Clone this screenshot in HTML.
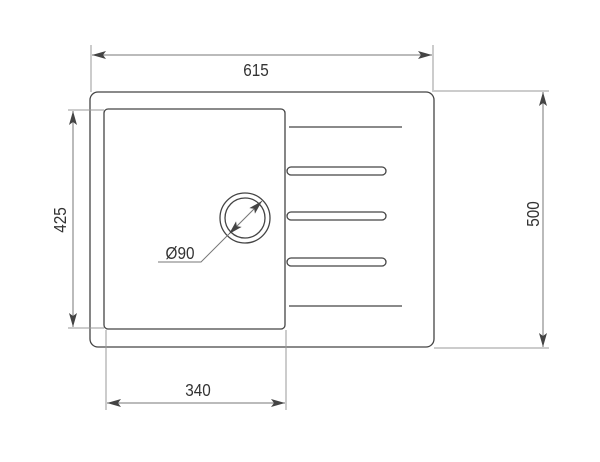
<!DOCTYPE html>
<html><head><style>html,body{margin:0;padding:0;background:#fff}</style></head>
<body>
<svg width="600" height="457" viewBox="0 0 600 457" xmlns="http://www.w3.org/2000/svg" font-family="Liberation Sans, sans-serif">
<defs>
<marker id="a" viewBox="0 0 14 8" refX="14" refY="4" markerWidth="14" markerHeight="8" orient="auto-start-reverse" markerUnits="userSpaceOnUse">
<path d="M0,0 L14,4 L0,8 L3,4 Z" fill="#444"/>
</marker>
</defs>
<g fill="none" stroke="#444" stroke-width="1.3">
<rect x="90" y="92" width="344" height="255" rx="8"/>
<rect x="104" y="109" width="181" height="220" rx="4"/>
<line x1="289" y1="127" x2="402" y2="127"/>
<line x1="289" y1="306" x2="402" y2="306"/>
<rect x="287" y="167" width="99" height="8" rx="4"/>
<rect x="287" y="212" width="99" height="8" rx="4"/>
<rect x="287" y="258" width="99" height="8" rx="4"/>
<circle cx="245" cy="218" r="25"/>
<circle cx="245" cy="218" r="20"/>
</g>
<g stroke="#999" stroke-width="1" fill="none">
<line x1="91" y1="45" x2="91" y2="92"/>
<line x1="433" y1="45" x2="433" y2="92"/>
<line x1="434" y1="91" x2="549" y2="91"/>
<line x1="434" y1="348" x2="549" y2="348"/>
<line x1="68" y1="110" x2="104" y2="110"/>
<line x1="68" y1="328" x2="104" y2="328"/>
<line x1="106" y1="330" x2="106" y2="410"/>
<line x1="286" y1="330" x2="286" y2="410"/>
</g>
<g stroke="#777" stroke-width="1" fill="none">
<line x1="92" y1="55" x2="432" y2="55" marker-start="url(#a)" marker-end="url(#a)"/>
<line x1="543" y1="92" x2="543" y2="347" marker-start="url(#a)" marker-end="url(#a)"/>
<line x1="73" y1="111" x2="73" y2="327" marker-start="url(#a)" marker-end="url(#a)"/>
<line x1="107" y1="403" x2="285" y2="403" marker-start="url(#a)" marker-end="url(#a)"/>
<line x1="229" y1="234" x2="262" y2="201" marker-start="url(#a)" marker-end="url(#a)"/>
<polyline points="158,262 201,262 229,234"/>
</g>
<g fill="#333" font-size="18">
<text transform="translate(256,76) scale(0.85,1)" text-anchor="middle">615</text>
<text transform="translate(198,396) scale(0.85,1)" text-anchor="middle">340</text>
<text transform="translate(180,259) scale(0.85,1)" text-anchor="middle">Ø90</text>
<text transform="translate(66,220) rotate(-90) scale(0.85,1)" text-anchor="middle">425</text>
<text transform="translate(539,214) rotate(-90) scale(0.85,1)" text-anchor="middle">500</text>
</g>
</svg>
</body></html>
